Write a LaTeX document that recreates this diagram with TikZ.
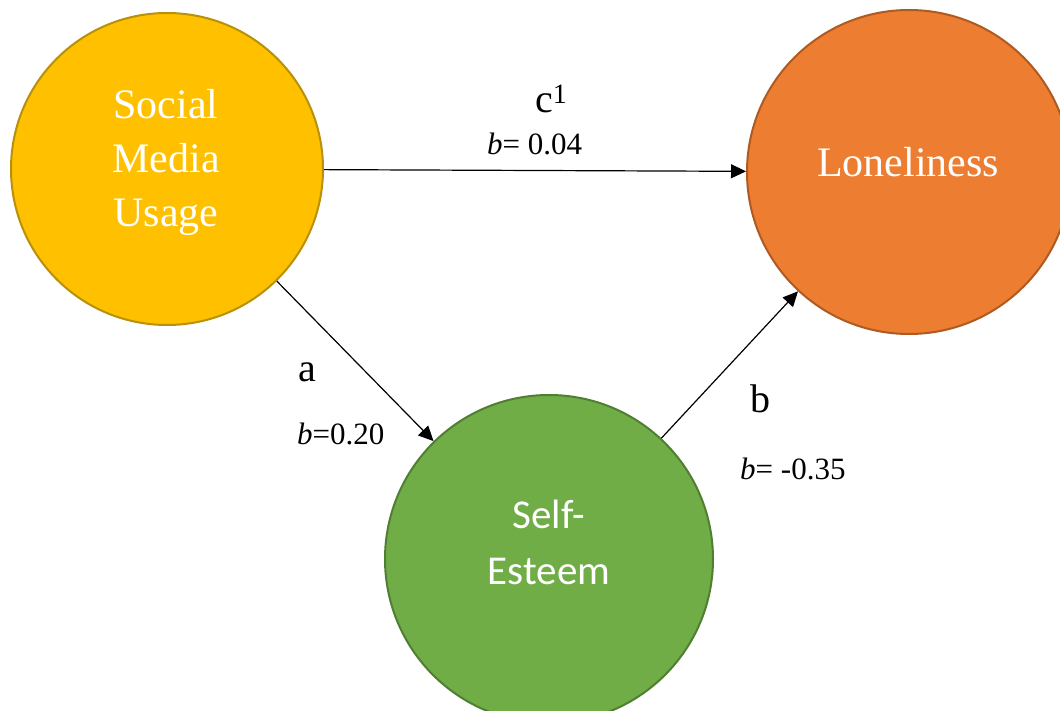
\documentclass[tikz,border=0pt]{standalone}
\usepackage{fontspec}
\setmainfont{Liberation Serif}
\newfontfamily\calfont{Carlito}
\usetikzlibrary{arrows.meta}
\definecolor{smufill}{HTML}{FFC000}
\definecolor{smuline}{HTML}{B8900A}
\definecolor{lonfill}{HTML}{ED7D31}
\definecolor{lonline}{HTML}{AE5A21}
\definecolor{sefill}{HTML}{70AD47}
\definecolor{seline}{HTML}{507E32}
\begin{document}
\begin{tikzpicture}[x=1pt,y=-1pt,
  bubble/.style={circle,line width=2pt,inner sep=0pt},
  intext/.style={text=white,align=center,inner sep=0pt},
  arr/.style={line width=1.2pt,-{Triangle[length=15pt,width=14pt]}},
  pathname/.style={inner sep=0pt,anchor=base west,font=\fontsize{40}{48}\selectfont},
  coef/.style={inner sep=0pt,anchor=base west,font=\fontsize{31}{37}\selectfont}]
\useasboundingbox (0,0) rectangle (1060,711);
\clip (0,0) rectangle (1060,711);
\node[bubble,fill=smufill,draw=smuline,minimum size=312pt] (smu) at (167,169) {};
\node[bubble,fill=lonfill,draw=lonline,minimum size=324pt] (lon) at (909,172) {};
\node[bubble,fill=sefill,draw=seline,minimum size=328pt] (se) at (549,559) {};
\node[intext,font=\fontsize{42}{54}\selectfont] (smutext) at (166,162) {Social\\Media\\Usage};
\node[intext,font=\fontsize{42}{50}\selectfont,anchor=base] (lontext) at (908,177) {Loneliness};
\node[intext,font=\calfont\fontsize{41}{56}\selectfont] (setext) at (549,542) {Self-\\Esteem};
\draw[arr] (smu) -- (lon);
\draw[arr] (smu) -- (se);
\draw[arr] (se) -- (lon);
\node[pathname] (lc) at (535,113) {c\textsuperscript{1}};
\node[coef] (bc) at (487,155) {\textit{b}= 0.04};
\node[pathname] (la) at (298,381) {a};
\node[coef] (ba) at (297,444) {\textit{b}=0.20};
\node[pathname] (lb) at (750,412) {b};
\node[coef] (bb) at (740,479) {\textit{b}= -0.35};
\end{tikzpicture}
\end{document}
